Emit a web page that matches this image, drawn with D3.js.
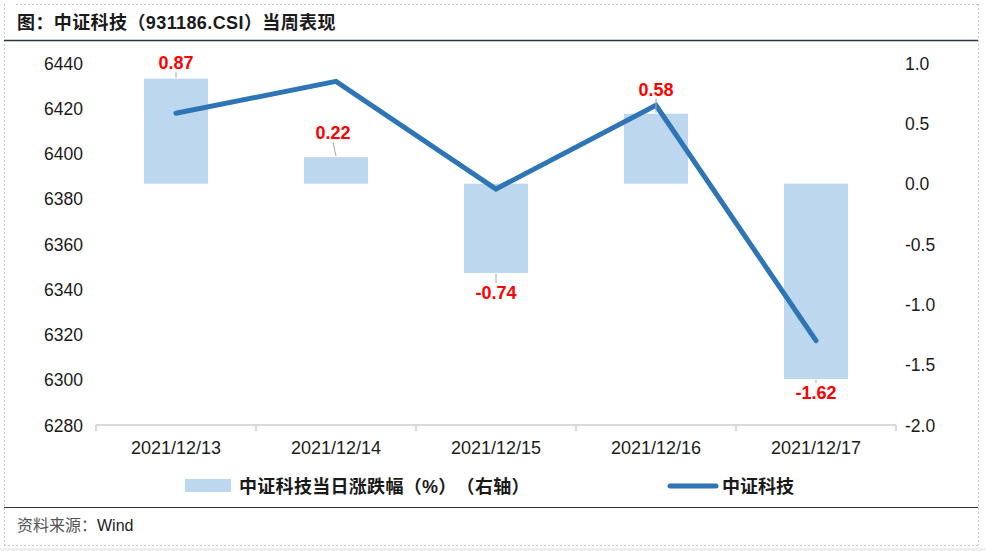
<!DOCTYPE html>
<html><head><meta charset="utf-8">
<script src="https://cdn.jsdelivr.net/npm/d3@7"></script>
<style>html,body{margin:0;padding:0;background:#fff;}svg{display:block;}
text{text-spacing-trim:space-all;}</style>
</head><body>
<svg id="c" width="986" height="551"></svg>
<script>
const categories = ["2021/12/13","2021/12/14","2021/12/15","2021/12/16","2021/12/17"];
const pctChange = [0.87, 0.22, -0.74, 0.58, -1.62];
const indexClose = [6417.8, 6431.9, 6384.3, 6421.3, 6317.3];
const leftTicks = [6280,6300,6320,6340,6360,6380,6400,6420,6440];
const rightTicks = [-2.0,-1.5,-1.0,-0.5,0.0,0.5,1.0];
const titleText = "图：中证科技（931186.CSI）当周表现";
const sourceText = "资料来源：Wind";
const legendBar = "中证科技当日涨跌幅（%）（右轴）";
const legendLine = "中证科技";

const svg = d3.select("#c");
const FONT = "'Liberation Sans', Arial, sans-serif";
const CJKF = "'Noto Sans CJK SC', sans-serif";

function mixed(sel, str, latinFill, cjkFill) {
  const runs = str.match(/[\x00-\x7F]+|[^\x00-\x7F]+/g);
  runs.forEach(r => {
    const ascii = /^[\x00-\x7F]+$/.test(r);
    sel.append("tspan").attr("font-family", ascii ? FONT : CJKF)
      .attr("fill", ascii ? latinFill : cjkFill).text(r);
  });
  return sel;
}

// frame
svg.append("line").attr("x1",4.5).attr("x2",4.5).attr("y1",4).attr("y2",545).attr("stroke","#c8c8c8").attr("stroke-dasharray","2,2");
svg.append("line").attr("x1",978.5).attr("x2",978.5).attr("y1",4).attr("y2",545).attr("stroke","#c8c8c8").attr("stroke-dasharray","2,2");
svg.append("line").attr("x1",16).attr("x2",978).attr("y1",4.5).attr("y2",4.5).attr("stroke","#c8c8c8").attr("stroke-dasharray","2,2");
svg.append("line").attr("x1",4).attr("x2",978).attr("y1",545.5).attr("y2",545.5).attr("stroke","#c8c8c8").attr("stroke-dasharray","2,2");
svg.append("rect").attr("x",0).attr("y",548).attr("width",986).attr("height",3).attr("fill","#f0f0f0");
svg.append("line").attr("x1",4).attr("x2",978).attr("y1",40.5).attr("y2",40.5).attr("stroke","#2b3545").attr("stroke-width",1.5);
svg.append("line").attr("x1",4).attr("x2",978).attr("y1",507.5).attr("y2",507.5).attr("stroke","#2b3545").attr("stroke-width",1.2);

mixed(svg.append("text").attr("x",17).attr("y",29).attr("font-weight","bold").attr("font-size",18).attr("letter-spacing",0.4), titleText, "#1a1a1a", "#1a1a1a");
mixed(svg.append("text").attr("x",17).attr("y",531).attr("font-size",16), sourceText, "#222", "#555");

// scales
const x = d3.scaleBand().domain(categories).range([96,896]).paddingInner(0.6).paddingOuter(0.3);
const xOuter = d3.scaleBand().domain(categories).range([96,896]);
const yL = d3.scaleLinear().domain([6280,6440]).range([425,63]);
const yR = d3.scaleLinear().domain([-2,1]).range([425,63]);

// bars
svg.append("g").selectAll("rect").data(pctChange).join("rect")
  .attr("x",(d,i)=>x(categories[i]))
  .attr("width",x.bandwidth())
  .attr("y",d=>yR(Math.max(0,d)))
  .attr("height",d=>Math.abs(yR(d)-yR(0)))
  .attr("fill","#bdd7ee");

// x axis
const gx = svg.append("g").attr("transform","translate(0,425)");
gx.append("line").attr("x1",96).attr("x2",896).attr("y1",0).attr("y2",0).attr("stroke","#d9d9d9").attr("stroke-width",2);
const edges = categories.map(c=>xOuter(c)).concat([896]);
gx.selectAll("line.tk").data(edges).join("line").attr("class","tk")
  .attr("x1",d=>d).attr("x2",d=>d).attr("y1",0).attr("y2",6).attr("stroke","#d9d9d9").attr("stroke-width",2);
gx.selectAll("text").data(categories).join("text")
  .attr("x",d=>xOuter(d)+xOuter.bandwidth()/2).attr("y",29)
  .attr("text-anchor","middle").attr("font-family",FONT).attr("font-size",18).attr("fill","#1a1a1a").text(d=>d);

// left axis
const axL = d3.axisLeft(yL).tickValues(leftTicks).tickSize(0).tickPadding(0).tickFormat(d3.format("d"));
const gl = svg.append("g").attr("transform","translate(83,0)").call(axL);
gl.select(".domain").remove();
gl.selectAll("text").attr("font-family",FONT).attr("font-size",17.5).attr("fill","#1a1a1a").attr("dy","0.35em");

// right axis
const axR = d3.axisRight(yR).tickValues(rightTicks).tickSize(0).tickPadding(0).tickFormat(d3.format(".1f"));
const gr = svg.append("g").attr("transform","translate(905,0)").call(axR);
gr.select(".domain").remove();
gr.selectAll("text").attr("font-family",FONT).attr("font-size",17.5).attr("fill","#1a1a1a").attr("dy","0.35em")
  .text(d=>d3.format(".1f")(d).replace("−","-"));

// line
const cx = c=>xOuter(c)+xOuter.bandwidth()/2;
const line = d3.line().x((d,i)=>cx(categories[i])).y(d=>yL(d));
svg.append("path").datum(indexClose).attr("d",line).attr("fill","none")
  .attr("stroke","#2e75b6").attr("stroke-width",5).attr("stroke-linecap","round").attr("stroke-linejoin","miter");

// data labels
const lblOff = [[0,-16],[-3,-24],[0,20],[0,-24],[0,14]];
const lg = svg.append("g");
pctChange.forEach((d,i)=>{
  const bx = cx(categories[i]);
  const by = yR(d);
  const lx = bx + lblOff[i][0];
  const ly = by + lblOff[i][1];
  if (d>0) {
    lg.append("line").attr("x1",lx).attr("y1",ly+9).attr("x2",bx).attr("y2",by-1).attr("stroke","#a6a6a6").attr("stroke-width",1);
  } else {
    lg.append("line").attr("x1",bx).attr("y1",by+1).attr("x2",lx).attr("y2",ly-10).attr("stroke","#a6a6a6").attr("stroke-width",1);
  }
  lg.append("text").attr("x",lx).attr("y",ly).attr("dy","0.35em").attr("text-anchor","middle")
    .attr("font-family",FONT).attr("font-weight","bold").attr("font-size",18).attr("fill","#ff0000")
    .text(d3.format(".2f")(d).replace("−","-"));
});

// legend
svg.append("rect").attr("x",185).attr("y",479).attr("width",46).attr("height",13).attr("fill","#bdd7ee");
mixed(svg.append("text").attr("x",239).attr("y",492.5).attr("font-weight","bold").attr("font-size",18).attr("letter-spacing",0.3), legendBar, "#1a1a1a", "#1a1a1a");
svg.append("line").attr("x1",670).attr("x2",716).attr("y1",486).attr("y2",486).attr("stroke","#2e75b6").attr("stroke-width",5).attr("stroke-linecap","round");
mixed(svg.append("text").attr("x",722).attr("y",492.5).attr("font-weight","bold").attr("font-size",18), legendLine, "#1a1a1a", "#1a1a1a");
</script>
</body></html>
